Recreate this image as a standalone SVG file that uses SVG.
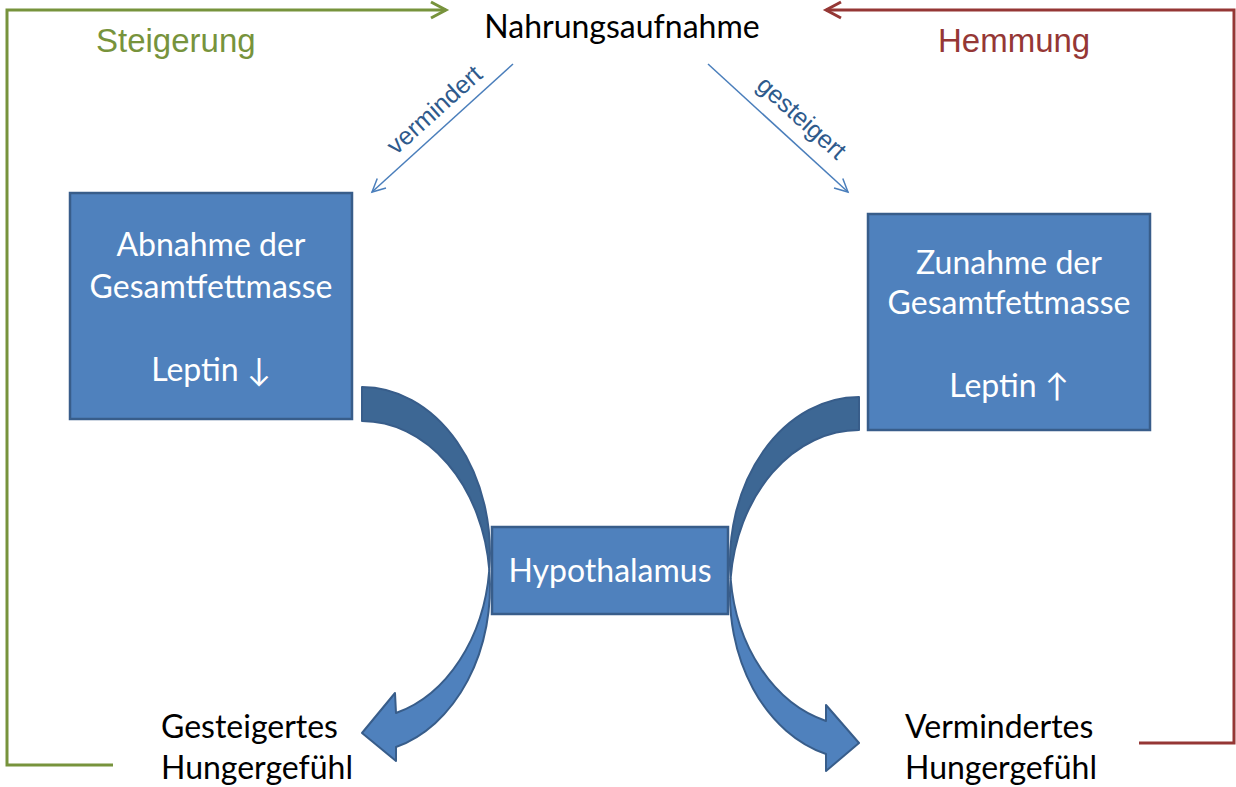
<svg xmlns="http://www.w3.org/2000/svg" width="1236" height="787" viewBox="0 0 1236 787">
<style>
.box{fill:#4F81BD;stroke:#385D8A;stroke-width:2.5}
.dark{fill:#3D6794;stroke:#385D8A;stroke-width:2;stroke-linejoin:round}
.light{fill:#4F81BD;stroke:#385D8A;stroke-width:2;stroke-linejoin:round}
.wt{font-family:Lato,"DejaVu Sans",sans-serif;font-size:32px;fill:#FFFFFF;text-anchor:middle}
.bt{font-family:Lato,"DejaVu Sans",sans-serif;font-size:32px;fill:#000000}
.lab{font-family:"Liberation Sans",Arial,sans-serif;font-size:33px}
.rot{font-family:"Liberation Sans",Arial,sans-serif;font-size:25px;fill:#2E5A8C;text-anchor:middle}
.thin{fill:none;stroke:#4A7EBB;stroke-width:1.5}
</style>
<defs>
<marker id="hg" markerUnits="userSpaceOnUse" markerWidth="30" markerHeight="30" viewBox="-20 -15 30 30" refX="0" refY="0" orient="auto" overflow="visible">
<path d="M-15,-8 L0,0 L-15,8" fill="none" stroke="#77933C" stroke-width="3"/>
</marker>
<marker id="hr" markerUnits="userSpaceOnUse" markerWidth="30" markerHeight="30" viewBox="-20 -15 30 30" refX="0" refY="0" orient="auto" overflow="visible">
<path d="M-15,-8 L0,0 L-15,8" fill="none" stroke="#953735" stroke-width="3"/>
</marker>
<marker id="hb" markerUnits="userSpaceOnUse" markerWidth="30" markerHeight="30" viewBox="-20 -15 30 30" refX="0" refY="0" orient="auto" overflow="visible">
<path d="M-13,-6.5 L0,0 L-13,6.5" fill="none" stroke="#4A7EBB" stroke-width="1.5"/>
</marker>
</defs>
<rect width="1236" height="787" fill="#FFFFFF"/>

<g id="connectors">
<path d="M113,765 L7,765 L7,10 L446,10" fill="none" stroke="#77933C" stroke-width="3" marker-end="url(#hg)"/>
<path d="M1139,743 L1234,743 L1234,10 L826,10" fill="none" stroke="#953735" stroke-width="3" marker-end="url(#hr)"/>
<line class="thin" x1="513" y1="64" x2="372" y2="192" marker-end="url(#hb)"/>
<line class="thin" x1="708" y1="64" x2="848" y2="192" marker-end="url(#hb)"/>
<g id="curve-left">
<path class="dark" d="M362,387 A128,166 0 0 1 489.3,570 A128,166 0 0 0 362,421 Z"/>
<path class="light" d="M489.3,570 A128,166 0 0 1 396,747 L396,761 L362,733 L395,693 L396,713 A128,166 0 0 0 489.3,570 Z"/>
</g>
<g id="curve-right">
<path class="dark" d="M859,397 A129,165 0 0 0 730.6,578.5 A129,165 0 0 1 859,430 Z"/>
<path class="light" d="M730.6,578.5 A129,165 0 0 0 826,754 L826,771 L859,743 L826,705 L826,721 A129,165 0 0 1 730.6,578.5 Z"/>
</g>
</g>

<g id="label-steigerung"><text class="lab" x="96" y="52" fill="#77933C">Steigerung</text></g>
<g id="label-hemmung"><text class="lab" x="938" y="52" fill="#953735">Hemmung</text></g>
<g id="label-vermindert"><text class="rot" transform="translate(440,116) rotate(-42)">vermindert</text></g>
<g id="label-gesteigert"><text class="rot" transform="translate(796,124) rotate(42)">gesteigert</text></g>

<g id="nahrungsaufnahme"><text class="bt" x="622" y="38" text-anchor="middle">Nahrungsaufnahme</text></g>

<g id="abnahme">
<rect class="box" x="70" y="193" width="282" height="226"/>
<text class="wt" x="211" y="256">Abnahme der</text>
<text class="wt" x="211" y="298">Gesamtfettmasse</text>
<text class="wt" x="211" y="381">Leptin ↓</text>
</g>

<g id="zunahme">
<rect class="box" x="868" y="214" width="282" height="216"/>
<text class="wt" x="1009" y="274">Zunahme der</text>
<text class="wt" x="1009" y="314">Gesamtfettmasse</text>
<text class="wt" x="1009" y="397">Leptin ↑</text>
</g>

<g id="hypothalamus">
<rect class="box" x="492" y="527" width="236" height="87"/>
<text class="wt" x="610" y="582">Hypothalamus</text>
</g>

<g id="gesteigertes">
<text class="bt" x="161" y="738">Gesteigertes</text>
<text class="bt" x="161" y="779">Hungergefühl</text>
</g>

<g id="vermindertes">
<text class="bt" x="905" y="738">Vermindertes</text>
<text class="bt" x="905" y="779">Hungergefühl</text>
</g>
</svg>
